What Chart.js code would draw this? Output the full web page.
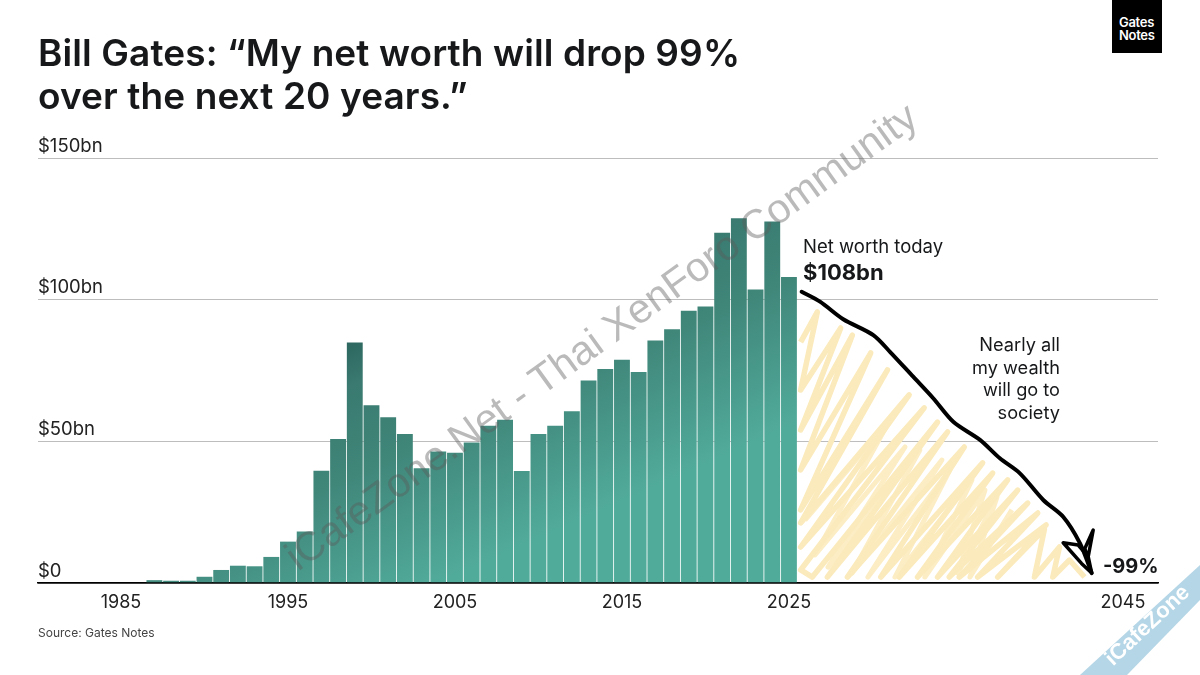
<!DOCTYPE html>
<html>
<head>
<meta charset="utf-8">
<script src="https://cdn.jsdelivr.net/npm/chart.js@4"></script>
<style>
  body { margin: 0; background: #fff; }
  #page { position: relative; width: 1200px; height: 675px; overflow: hidden; font-family: Inter, sans-serif; color: #16181a; }
  #page div { position: absolute; white-space: nowrap; }
  canvas { position: absolute; left: 0; top: 0; }
  #title { left: 38px; top: 31px; font-size: 37px; line-height: 43px; font-weight: 600; letter-spacing: 0.1px; }
  #logo { left: 1112px; top: 0; width: 50px; height: 53px; background: #000; }
  #logoText { left: 1119px; top: 16px; font-size: 13px; line-height: 13px; font-weight: 600; color: #fff; letter-spacing: -0.3px; }
  #today { left: 803px; top: 235px; font-size: 18.5px; line-height: 22px; }
  #todayValue { left: 803px; top: 259px; font-size: 22px; line-height: 26px; font-weight: 700; }
  #society { right: 140px; top: 333px; font-size: 18.2px; line-height: 22.6px; text-align: right; }
  #drop { left: 1103px; top: 554px; font-size: 20px; line-height: 24px; font-weight: 700; }
  #source { left: 38px; top: 625px; font-size: 12px; line-height: 15px; color: #444; }
  #watermark { left: 601px; top: 336px; transform: translate(-50%, -50%) rotate(-35.8deg); font-family: "Liberation Sans", sans-serif; font-size: 41px; line-height: 46px; color: rgba(90, 90, 90, 0.42); }
  #ribbon { left: 1080px; top: 565px; width: 120px; height: 110px; background: #b5d6e6; clip-path: polygon(100% 0, 100% 35px, 47px 100%, 0 100%); }
  #ribbonText { left: 1147px; top: 625px; transform: translate(-50%, -50%) rotate(-43deg); font-family: "Liberation Sans", sans-serif; font-weight: 700; font-size: 22px; line-height: 24px; color: #fff; }
</style>
</head>
<body>
<div id="page">
  <canvas id="chart" width="1200" height="675"></canvas>
  <div id="title">Bill Gates: “My net worth will drop 99%<br>over the next 20 years.”</div>
  <div id="logo"></div>
  <div id="logoText">Gates<br>Notes</div>
  <div id="today">Net worth today</div>
  <div id="todayValue">$108bn</div>
  <div id="society">Nearly all<br>my wealth<br>will go to<br>society</div>
  <div id="drop">-99%</div>
  <div id="source">Source: Gates Notes</div>
  <div id="watermark">iCafeZone.Net - Thai XenForo Community</div>
  <div id="ribbon"></div>
  <div id="ribbonText">iCafeZone</div>
</div>
<script>
const years = [1987, 1988, 1989, 1990, 1991, 1992, 1993, 1994, 1995, 1996, 1997, 1998, 1999,
  2000, 2001, 2002, 2003, 2004, 2005, 2006, 2007, 2008, 2009, 2010, 2011, 2012, 2013,
  2014, 2015, 2016, 2017, 2018, 2019, 2020, 2021, 2022, 2023, 2024, 2025];
const netWorth = [1, 0.8, 0.8, 2.2, 4.6, 6.1, 5.9, 9.2, 14.6, 18.2, 39.6, 50.8, 84.9,
  62.7, 58.5, 52.6, 40.5, 46.4, 46, 49.6, 55.5, 57.6, 39.5, 52.6, 55.5, 60.6, 71.5,
  75.5, 78.8, 74.5, 85.6, 89.6, 96.1, 97.6, 123.6, 128.7, 103.6, 127.6, 108];

const xTickLabels = [1985, 1995, 2005, 2015, 2025, 2045];
const yTickLabels = [0, 50, 100, 150];

// Hand drawn decline line
const lineYears = [2025.76, 2026.86, 2028.25, 2030.05, 2031.05, 2032.44, 2033.64, 2034.84,
  2036.44, 2037.63, 2038.83, 2040.23, 2041.42, 2042.43, 2043.13];
const lineValues = [102.8, 99.3, 93.1, 87.5, 81.6, 72.8, 65.2, 56.9, 50.5, 44, 38.7, 29.3, 23.4, 14, 3.5];

const arrowYears = [2043.13, 2042.72, 2043.22, 2042.92, 2043.13, 2042.52, 2041.42, 2042.32, 2042.92];
const arrowValues = [3.5, 12.2, 18.7, 9.3, 3.5, 6.9, 14.2, 13.4, 9.3];

// Yellow scribble under the line
const scribbleYears = [2025.7, 2026.7, 2025.7, 2028.1, 2025.7, 2028.8, 2025.7, 2029.9, 2025.7, 2030.9,
  2025.7, 2032.2, 2025.7, 2033.1, 2025.7, 2026.4, 2033.9, 2027.3, 2034.5, 2028.5, 2035.5, 2030.5,
  2036.6, 2031.6, 2037.2, 2032.7, 2038.1, 2033.9, 2038.7, 2034.6, 2039.3, 2035.2, 2039.9, 2036.3,
  2040.4, 2037.5, 2040.3, 2039.7, 2041.2, 2040.8, 2041.8, 2042.7];
const scribbleValues = [85, 95.7, 68.1, 90, 54, 87.5, 39.9, 81.2, 25.8, 75.2,
  21.2, 66.4, 12.7, 61.8, 4.6, 2.1, 56.8, 2.1, 53.3, 2.1, 48, 2.1,
  42.4, 2.1, 38.8, 2.1, 36.4, 2.1, 32.8, 2.1, 28.2, 2.1, 24.7, 2.1,
  20.5, 2.1, 19, 2.1, 12.7, 2.1, 8.1, 2.1];

// Second pass of the scribble, the denser middle band
const fillYears = [2025.96, 2031.05, 2026.56, 2031.95, 2027.34, 2032.84, 2028.77, 2034.16, 2029.73,
  2034.64, 2031.35, 2035.96, 2033.14, 2036.74, 2035.12, 2037.46, 2035.84, 2038.35];
const fillValues = [22.2, 57.5, 9.9, 48, 5.6, 46.9, 3.5, 43.4, 2.1,
  39.9, 2.1, 36.4, 2.1, 32.8, 3.5, 30.4, 2.1, 25.8];

function toPoints(xs, ys) {
  return xs.map((x, i) => ({ x, y: ys[i] }));
}

// Diagonal gradient, dark at the top of the 1999 bar and light towards the lower right
let barGradient = null;
function barColor(ctx) {
  const chart = ctx.chart;
  if (!chart.chartArea) return "#3f8578";
  if (!barGradient) {
    const x = chart.scales.x;
    const y = chart.scales.y;
    barGradient = chart.ctx.createLinearGradient(
      x.getPixelForValue(1999), y.getPixelForValue(85),
      x.getPixelForValue(2005.2), y.getPixelForValue(3)
    );
    barGradient.addColorStop(0, "#2e6860");
    barGradient.addColorStop(0.15, "#3a7a70");
    barGradient.addColorStop(0.45, "#3f8578");
    barGradient.addColorStop(1, "#51ab9b");
  }
  return barGradient;
}

new Chart(document.getElementById("chart"), {
  data: {
    datasets: [
      {
        type: "bar",
        data: toPoints(years, netWorth),
        backgroundColor: barColor,
        barPercentage: 0.95,
        categoryPercentage: 1,
        order: 4,
      },
      {
        type: "line",
        data: toPoints(fillYears, fillValues),
        borderColor: "#fcedc4",
        borderWidth: 5,
        borderJoinStyle: "round",
        pointRadius: 0,
        order: 3,
      },
      {
        type: "line",
        data: toPoints(scribbleYears, scribbleValues),
        borderColor: "#fbeabb",
        borderWidth: 5.5,
        borderJoinStyle: "round",
        pointRadius: 0,
        order: 2,
      },
      {
        type: "line",
        data: toPoints(lineYears, lineValues),
        borderColor: "#000",
        borderWidth: 4,
        borderCapStyle: "round",
        tension: 0.3,
        pointRadius: 0,
        order: 1,
      },
      {
        type: "line",
        data: toPoints(arrowYears, arrowValues),
        borderColor: "#000",
        borderWidth: 3.5,
        borderCapStyle: "round",
        borderJoinStyle: "round",
        pointRadius: 0,
        order: 0,
      },
    ],
  },
  options: {
    responsive: false,
    animation: false,
    layout: { padding: { left: 38, right: 42, top: 158, bottom: 42 } },
    plugins: { legend: { display: false }, tooltip: { enabled: false } },
    scales: {
      x: {
        type: "linear",
        offset: false,
        min: 1980.03,
        max: 2047.1,
        afterBuildTicks: (scale) => {
          scale.ticks = xTickLabels.map((value) => ({ value }));
        },
        afterFit: (scale) => {
          scale.height = 50;
        },
        grid: { display: false, offset: false },
        border: { color: "#000", width: 1.5 },
        ticks: {
          color: "#222",
          font: { family: "Inter", size: 18 },
          padding: 1,
          maxRotation: 0,
          autoSkip: false,
          callback: (v) => String(v),
        },
      },
      y: {
        min: 0,
        max: 150,
        afterBuildTicks: (scale) => {
          scale.ticks = yTickLabels.map((value) => ({ value }));
        },
        grid: {
          drawTicks: false,
          color: (c) => (c.tick.value === 0 ? "#000" : "#bdbdbd"),
          lineWidth: (c) => (c.tick.value === 0 ? 1.5 : 1),
        },
        border: { display: false },
        ticks: {
          mirror: true,
          padding: 0,
          labelOffset: -12,
          color: "#222",
          font: { family: "Inter", size: 18.5 },
          callback: (v) => (v === 0 ? "$0" : "$" + v + "bn"),
        },
      },
    },
  },
});
</script>
</body>
</html>
